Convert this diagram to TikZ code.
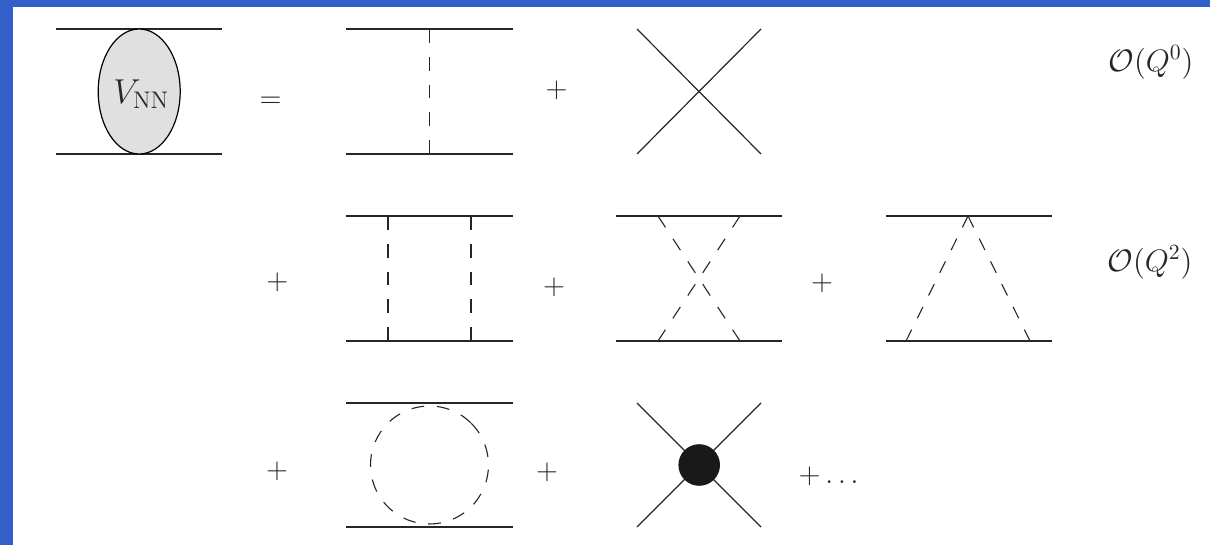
\documentclass[tikz,border=0pt]{standalone}
\usepackage{fix-cm}
\usepackage{amsmath}
\usetikzlibrary{shapes.geometric}
\definecolor{slideblue}{HTML}{3360C8}

\begin{document}
\begin{tikzpicture}[
    x=0.5pt, y=-0.5pt,
    font=\Large,
    nucleon/.style={line width=0.6pt, draw=black!85},
    pion/.style={line width=0.55pt, draw=black!85, dash pattern=on #1 off #1},
    contact/.style={line width=0.6pt, draw=black!85},
    blob/.style={ellipse, draw=black, line width=0.6pt, fill=black!12, inner sep=0pt,
        minimum width=41pt, minimum height=62.5pt},
    vertexdot/.style={circle, fill=black!90, inner sep=0pt, minimum size=20.8pt},
    term/.style={anchor=base, inner sep=0pt, text=black!85},
    order/.style={term, font=\fontsize{15.5}{18}\selectfont}
]

% ============ Background ============
\fill[slideblue] (0,0) rectangle (1210,545);
\fill[white] (12.7,7.3) rectangle (1210,545);

% ============ Nucleon lines ============
\foreach \diag/\xl/\xr/\yt/\yb in {
    vnn/56/222/29/154, ope/346/513/29/154,
    box/346/513/216/341, xbox/616/782/216/341, tri/886/1052/216/341,
    loop/346/513/403/527}{
    \coordinate (\diag tl) at (\xl,\yt);
    \coordinate (\diag tr) at (\xr,\yt);
    \coordinate (\diag bl) at (\xl,\yb);
    \coordinate (\diag br) at (\xr,\yb);
    \draw[nucleon] (\diag tl) -- (\diag tr);
    \draw[nucleon] (\diag bl) -- (\diag br);
}

% ============ Row 1 ============
\node[blob] (vnn) at (139.2,91.5) {};
\node[term, font=\LARGE] (vnnlabel) at (141.3,103.5) {$V_{\mathrm{NN}}$};
\node[term] (eq) at (270.5,108) {$=$};

\coordinate (opet) at (429.5,29);
\coordinate (opeb) at (429.5,154);
\draw[pion=6.95pt] (opet) -- (opeb);
\node[term] (plusa) at (556.7,98) {$+$};

\coordinate (ca) at (637,29);
\coordinate (cb) at (761,154);
\coordinate (cc) at (761,29);
\coordinate (cd) at (637,154);
\draw[contact] (ca) -- (cb);
\draw[contact] (cc) -- (cd);

\node[order] (orderzero) at (1151,71.2) {$\mathcal{O}(Q^0)$};

% ============ Row 2 ============
\node[term] (plusb) at (277.3,290) {$+$};

\coordinate (boxat) at (388,216);
\coordinate (boxab) at (388,341);
\coordinate (boxbt) at (471,216);
\coordinate (boxbb) at (471,341);
\draw[pion=6.95pt] (boxat) -- (boxab);
\draw[pion=6.95pt] (boxbt) -- (boxbb);
\node[term] (plusc) at (554,294) {$+$};

\coordinate (xat) at (658,216);
\coordinate (xab) at (740,341);
\coordinate (xbt) at (740,216);
\coordinate (xbb) at (658,341);
\draw[pion=6.8pt] (xat) -- (xab);
\draw[pion=6.8pt] (xbt) -- (xbb);
\node[term] (plusd) at (822,291) {$+$};

\coordinate (apex) at (968,216);
\coordinate (footl) at (906,341);
\coordinate (footr) at (1030,341);
\draw[pion=6.34pt] (apex) -- (footl);
\draw[pion=6.34pt] (apex) -- (footr);

\node[order] (ordertwo) at (1150,271.2) {$\mathcal{O}(Q^2)$};

% ============ Row 3 ============
\node[term] (pluse) at (277,478) {$+$};

\coordinate (loopc) at (429.5,465);
\draw[pion=6.38pt] (loopc) ++(-45:59) arc[start angle=-45, end angle=315, radius=59];
\node[term] (plusf) at (547,479) {$+$};

\coordinate (da) at (637,403);
\coordinate (db) at (761,527);
\coordinate (dc) at (761,403);
\coordinate (dd) at (637,527);
\draw[contact] (da) -- (db);
\draw[contact] (dc) -- (dd);
\node[vertexdot] (dot) at (699.2,465) {};
\node[term] (dots) at (831,483) {$+\dots$};

\end{tikzpicture}
\end{document}
